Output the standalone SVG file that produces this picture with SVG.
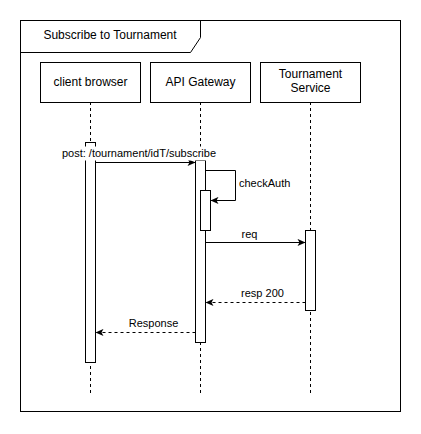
<svg xmlns="http://www.w3.org/2000/svg" width="421" height="434" viewBox="0 0 421 434">
<style>
text{font-family:"Liberation Sans",Arial,Helvetica,sans-serif;fill:#000}
.t12{font-size:12px}
.t11{font-size:11px}
.box{fill:#fff;stroke:#000;stroke-width:1}
.life{stroke:#000;stroke-width:1;stroke-dasharray:3 3;fill:none}
.msg{stroke:#000;stroke-width:1;fill:none;marker-end:url(#arr)}
.ret{stroke:#000;stroke-width:1;fill:none;stroke-dasharray:3 3;marker-end:url(#arr)}
</style>
<defs>
<marker id="arr" viewBox="0 0 10 10" refX="10" refY="5" markerWidth="9" markerHeight="8" orient="auto" markerUnits="userSpaceOnUse">
<path d="M0,0.5 L10,5 L0,9.5 L2.5,5 Z" fill="#000" stroke="none"/>
</marker>
</defs>
<rect width="421" height="434" fill="#fff"/>
<g id="frame">
<rect x="20.5" y="20.5" width="380" height="391" fill="none" stroke="#000"/>
<path d="M20.5,52.5 L190.5,52.5 L200.5,37.5 L200.5,20.5" fill="none" stroke="#000"/>
<text class="t12" x="110" y="39" text-anchor="middle">Subscribe to Tournament</text>
</g>
<g id="lifelines">
<line class="life" x1="90.5" y1="102" x2="90.5" y2="393"/>
<line class="life" x1="200.5" y1="102" x2="200.5" y2="393"/>
<line class="life" x1="310.5" y1="102" x2="310.5" y2="393"/>
</g>
<g id="client-browser">
<rect class="box" x="40.5" y="62.5" width="100" height="40"/>
<text class="t12" x="90.5" y="86" text-anchor="middle">client browser</text>
</g>
<g id="api-gateway">
<rect class="box" x="150.5" y="62.5" width="100" height="40"/>
<text class="t12" x="200.5" y="86" text-anchor="middle">API Gateway</text>
</g>
<g id="tournament-service">
<rect class="box" x="260.5" y="62.5" width="100" height="40"/>
<text class="t12" x="310.5" y="78" text-anchor="middle">Tournament</text>
<text class="t12" x="310.5" y="92" text-anchor="middle">Service</text>
</g>
<g id="activations">
<rect id="act-client" class="box" x="85.5" y="142.5" width="10" height="220"/>
<rect id="act-api" class="box" x="195.5" y="160.5" width="10" height="182"/>
<rect id="act-api-auth" class="box" x="200.5" y="190.5" width="10" height="40"/>
<rect id="act-tournament" class="box" x="305.5" y="230.5" width="10" height="80"/>
</g>
<g id="connectors">
<line class="msg" x1="95.5" y1="162.5" x2="195.5" y2="162.5"/>
<rect x="62" y="146.5" width="154" height="14" fill="#fff"/>
<text class="t11" x="139" y="157" text-anchor="middle">post: /tournament/idT/subscribe</text>
<path class="msg" d="M205.5,170.5 L235.5,170.5 L235.5,200.5 L210.5,200.5"/>
<text class="t11" x="239" y="187">checkAuth</text>
<line class="msg" x1="205.5" y1="242.5" x2="305.5" y2="242.5"/>
<text class="t11" x="249.5" y="238" text-anchor="middle">req</text>
<line class="ret" x1="305.5" y1="302.5" x2="205.5" y2="302.5"/>
<text class="t11" x="262.5" y="297" text-anchor="middle">resp 200</text>
<line class="ret" x1="195.5" y1="332.5" x2="95.5" y2="332.5"/>
<text class="t11" x="153.5" y="327" text-anchor="middle">Response</text>
</g>
</svg>
